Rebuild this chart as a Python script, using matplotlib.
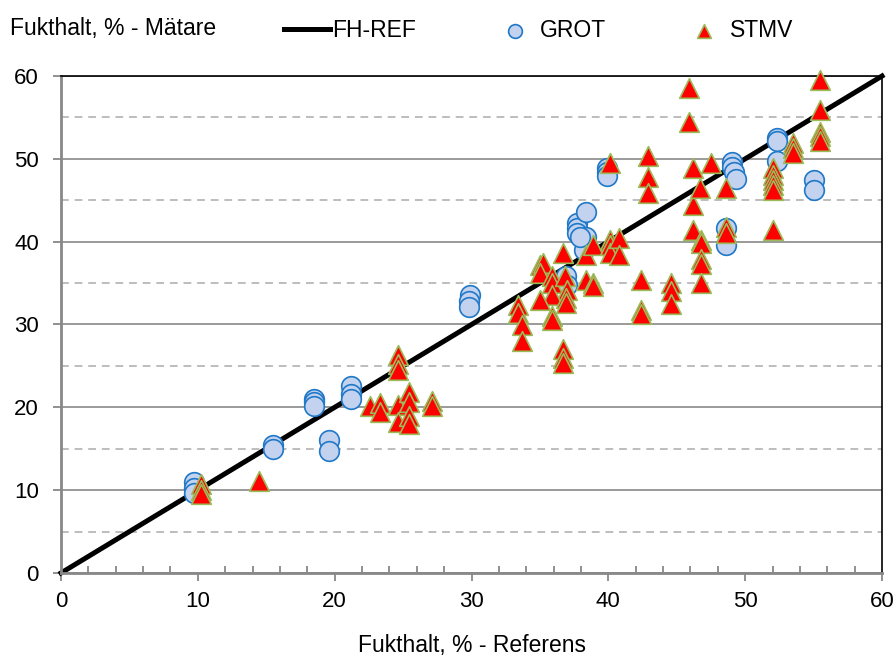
import matplotlib.pyplot as plt
from matplotlib.ticker import MultipleLocator

plt.rcParams['font.family'] = ['Liberation Sans', 'DejaVu Sans']

# Reference line (1:1)
ref_x = [0, 60]
ref_y = [0, 60]

# GROT: reference moisture vs meter moisture
grot_x = [9.7, 9.7, 9.7, 15.5, 15.5, 18.5, 18.5, 18.5, 19.6, 19.6,
          21.2, 21.2, 21.2, 29.9, 29.8, 29.8, 36.9, 37.0,
          37.7, 37.7, 37.7, 38.4, 38.4, 38.2, 37.9,
          39.9, 39.9, 39.9, 48.6, 48.6, 49.0, 49.0, 49.2, 49.3,
          52.3, 52.3, 52.3, 55.0, 55.0]
grot_y = [11.0, 10.3, 9.7, 15.5, 15.0, 21.0, 20.6, 20.1, 16.0, 14.7,
          22.6, 21.6, 21.0, 33.6, 32.8, 32.1, 35.8, 34.8,
          42.2, 41.6, 41.0, 43.6, 40.6, 39.0, 40.6,
          48.9, 48.4, 47.9, 41.6, 39.6, 49.6, 49.0, 48.4, 47.6,
          52.5, 52.1, 49.7, 47.4, 46.2]

# STMV
stmv_x = [10.2, 10.2, 10.2, 14.5,
          22.6, 23.3, 23.3, 24.6, 24.6, 25.4, 25.4, 25.4, 25.4, 27.1, 27.1,
          24.6, 24.6, 24.6,
          33.4, 33.4, 33.7, 33.7,
          35.0, 35.25, 35.0, 35.9, 35.9, 36.8, 37.0, 35.9, 35.0, 35.9, 35.9,
          36.7, 36.9, 36.9,
          36.7, 36.7, 36.7,
          38.4, 38.4, 38.9, 38.9, 38.9, 40.1, 40.1, 40.1, 40.8, 40.8,
          40.1,
          42.4, 42.4, 42.4,
          42.9, 42.9, 42.9,
          44.6, 44.6, 44.6,
          45.9, 45.9,
          46.2, 46.2, 46.2, 46.7, 46.75, 46.75, 46.75, 46.75, 46.75,
          47.5,
          48.6, 48.6, 48.6,
          52.0, 52.0, 52.0, 52.0, 52.0, 52.0,
          53.5, 53.5, 53.5,
          55.5, 55.5, 55.5, 55.5, 55.5]
stmv_y = [10.8, 10.0, 9.5, 11.1,
          20.1, 20.5, 19.4, 20.3, 18.2, 21.8, 20.6, 19.0, 18.0, 20.8, 20.2,
          26.3, 25.2, 24.5,
          32.4, 31.4, 29.9, 28.0,
          37.2, 37.4, 36.2, 35.8, 35.0, 35.8, 34.2, 33.6, 33.0, 31.0, 30.6,
          38.6, 33.2, 32.6,
          27.1, 25.9, 25.3,
          38.4, 35.4, 35.0, 34.6, 39.6, 40.2, 39.6, 38.6, 40.4, 38.4,
          49.5,
          35.4, 31.75, 31.3,
          50.3, 47.8, 45.9,
          35.0, 34.0, 32.5,
          58.5, 54.5,
          48.9, 44.4, 41.4, 46.5, 40.2, 39.8, 37.9, 37.3, 35.0,
          49.5,
          46.5, 41.8, 41.0,
          48.9, 48.1, 47.4, 46.8, 46.2, 41.4,
          51.9, 51.3, 50.7,
          59.5, 55.9, 53.3, 52.7, 52.1]

fig = plt.figure(figsize=(8.96, 6.57), dpi=100)
ax = fig.add_axes([0.0681, 0.1279, 0.9163, 0.7564])

ax.set_xlim(0, 60)
ax.set_ylim(0, 60)

# grid: solid at 10s, dashed at 5s
ax.yaxis.set_major_locator(MultipleLocator(10))
ax.yaxis.set_minor_locator(MultipleLocator(5))
ax.xaxis.set_major_locator(MultipleLocator(10))
ax.xaxis.set_minor_locator(MultipleLocator(2))
ax.grid(axis='y', which='major', color='#9a9a9a', linewidth=1.4)
ax.grid(axis='y', which='minor', color='#bdbdbd', linewidth=1.4,
        linestyle=(0, (4, 3)))
ax.set_axisbelow(True)

ax.tick_params(axis='x', which='major', direction='out', length=6,
               width=1.3, color='#888888', labelsize=16, pad=7)
ax.tick_params(axis='x', which='minor', direction='in', length=5,
               width=1.3, color='#888888')
ax.tick_params(axis='y', which='major', direction='out', length=6,
               width=1.3, color='#888888', labelsize=16, pad=10)
ax.tick_params(axis='y', which='minor', length=0)

for side in ['left', 'bottom']:
    ax.spines[side].set_color('#888888')
    ax.spines[side].set_linewidth(2)
ax.spines['top'].set_color('black')
ax.spines['top'].set_linewidth(1.2)
ax.spines['right'].set_color('black')
ax.spines['right'].set_linewidth(1.2)

ax.plot(ref_x, ref_y, color='black', linewidth=3.6, label='FH-REF',
        zorder=2, clip_on=False)
ax.scatter(grot_x, grot_y, s=200, marker='o', facecolor='#c3d3ef',
           edgecolor='#1f78c8', linewidth=1.2, label='GROT', zorder=3,
           clip_on=False)
ax.scatter(stmv_x, stmv_y, s=200, marker='^', facecolor='#ff0000',
           edgecolor='#9bbb59', linewidth=1.2, label='STMV', zorder=4,
           clip_on=False)

ax.set_xlabel('Fukthalt, % - Referens', fontsize=16.5, labelpad=16)
fig.text(0.011, 0.956, 'Fukthalt, % - Mätare', fontsize=16.5, va='center')

h, l = ax.get_legend_handles_labels()
leg = fig.legend(h, l, loc='center left', bbox_to_anchor=(0.294, 0.954),
                 ncol=3, frameon=False, fontsize=16.5, handlelength=2.0,
                 handletextpad=0.1, columnspacing=3.3, markerscale=0.7)

fig.savefig('out.png', dpi=100)
